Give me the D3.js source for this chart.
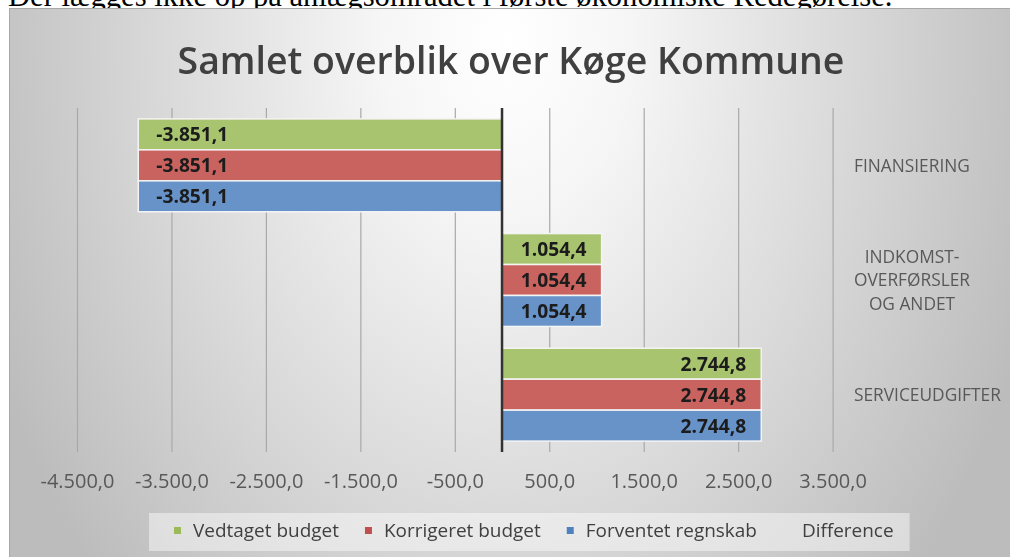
<!DOCTYPE html>
<html>
<head>
<meta charset="utf-8">
<script src="https://cdn.jsdelivr.net/npm/d3@7"></script>
<style>
  html, body { margin: 0; padding: 0; background: #ffffff; }
  svg { display: block; }
</style>
</head>
<body>
<svg id="chart" width="1010" height="557"></svg>
<script>
// ---------- data ----------
const categories = ["FINANSIERING", "INDKOMST-\nOVERFØRSLER\nOG ANDET", "SERVICEUDGIFTER"];
const seriesNames = ["Vedtaget budget", "Korrigeret budget", "Forventet regnskab"];
const legendNames = ["Vedtaget budget", "Korrigeret budget", "Forventet regnskab", "Difference"];
const vedtagetBudget = [-3851.1, 1054.4, 2744.8];
const korrigeretBudget = [-3851.1, 1054.4, 2744.8];
const forventetRegnskab = [-3851.1, 1054.4, 2744.8];
const tickValues = [-4500, -3500, -2500, -1500, -500, 500, 1500, 2500, 3500];
const seriesColors = ["#a8c46e", "#c9645f", "#6793c8"];
const legendColors = ["#9bbb59", "#c0504d", "#4f81bd", "none"];
const titleText = "Samlet overblik over Køge Kommune";
const aboveText = "Der lægges ikke op på anlægsområdet i første økonomiske Redegørelse.";

const seriesValues = [vedtagetBudget, korrigeretBudget, forventetRegnskab];

const fmt = v => {
  const s = Math.abs(v).toFixed(1).split(".");
  const int = s[0].replace(/\B(?=(\d{3})+(?!\d))/g, ".");
  return (v < 0 ? "-" : "") + int + "," + s[1];
};

const svg = d3.select("#chart");
const W = 1010, H = 557;
const SANS = "'Open Sans', 'Noto Sans', sans-serif";

function fitSize(str, family, weight, target) {
  const t = svg.append("text").attr("font-family", family).attr("font-weight", weight)
    .attr("font-size", 100).text(str);
  const w = t.node().getComputedTextLength();
  t.remove();
  return 100 * target / w;
}

const defs = svg.append("defs");
defs.append("filter").attr("id", "soft")
  .attr("x", "-5%").attr("y", "-5%").attr("width", "110%").attr("height", "110%")
  .append("feGaussianBlur").attr("stdDeviation", 0.45);

// ---------- text above chart (cut off like the reference) ----------
const aboveSize = fitSize(aboveText, "'Liberation Serif', serif", "normal", 885);
svg.append("text")
  .attr("x", 8).attr("y", 6)
  .attr("font-family", "'Liberation Serif', serif")
  .attr("font-size", aboveSize)
  .attr("fill", "#000")
  .text(aboveText);

// ---------- chart area background ----------
const grad = defs.append("radialGradient")
  .attr("id", "bg")
  .attr("gradientUnits", "userSpaceOnUse")
  .attr("cx", 505).attr("cy", 40).attr("r", 560)
  .attr("gradientTransform", "translate(505,40) scale(1,1.4) translate(-505,-40)");
[[0, "#ffffff"], [0.22, "#f6f6f6"], [0.6, "#dadada"], [1, "#bcbcbc"]].forEach(([o, c]) =>
  grad.append("stop").attr("offset", o).attr("stop-color", c));

svg.append("rect")
  .attr("x", 9.5).attr("y", 8.5).attr("width", W - 9).attr("height", H - 8)
  .attr("fill", "url(#bg)")
  .attr("stroke", "#a8a8a8").attr("stroke-width", 1);

const main = svg.append("g").attr("filter", "url(#soft)");

// ---------- title ----------
const titleSize = fitSize(titleText, SANS, "600", 667);
main.append("text")
  .attr("x", 511).attr("y", 74)
  .attr("text-anchor", "middle")
  .attr("font-family", SANS).attr("font-weight", 600)
  .attr("font-size", titleSize)
  .attr("fill", "#404040")
  .text(titleText);

// ---------- scales ----------
const x = d3.scaleLinear().domain([-4500, 3500]).range([77, 832.6]);
const y = d3.scaleBand().domain(categories).range([108, 452]).paddingInner(0.19).paddingOuter(0.095);
const ys = d3.scaleBand().domain(d3.range(seriesNames.length)).range([0, y.bandwidth()]).padding(0);

// ---------- gridlines via axis ----------
const tickSize = fitSize("-4.500,0", SANS, "normal", 74);
const xAxis = d3.axisBottom(x)
  .tickValues(tickValues)
  .tickSize(-(452 - 108))
  .tickPadding(22)
  .tickFormat(fmt);
const gx = main.append("g").attr("transform", "translate(0,452)").call(xAxis);
gx.select(".domain").remove();
gx.selectAll(".tick line").attr("stroke", "#a9a9a9").attr("stroke-width", 1.2);
gx.selectAll(".tick text")
  .attr("font-family", SANS).attr("font-size", tickSize)
  .attr("fill", "#595959");

// ---------- bars ----------
const gBars = main.append("g");
categories.forEach((cat, ci) => {
  seriesValues.forEach((vals, si) => {
    const v = vals[ci];
    const y0 = y(cat) + ys(si);
    gBars.append("rect")
      .attr("x", Math.min(x(0), x(v)))
      .attr("y", y0)
      .attr("width", Math.abs(x(v) - x(0)))
      .attr("height", ys.bandwidth())
      .attr("fill", seriesColors[si])
      .attr("stroke", "#f4f4f4").attr("stroke-width", 1.5);
  });
});

// ---------- data labels ----------
const labelSize = fitSize("-3.851,1", SANS, "bold", 72);
categories.forEach((cat, ci) => {
  seriesValues.forEach((vals, si) => {
    const v = vals[ci];
    const cy = y(cat) + ys(si) + ys.bandwidth() / 2;
    main.append("text")
      .attr("x", v < 0 ? x(v) + 18 : x(v) - 15)
      .attr("y", cy)
      .attr("dy", "0.36em")
      .attr("text-anchor", v < 0 ? "start" : "end")
      .attr("font-family", SANS).attr("font-weight", "bold")
      .attr("font-size", labelSize)
      .attr("fill", "#1a1a1a")
      .text(fmt(v));
  });
});

// ---------- zero axis line ----------
main.append("line")
  .attr("x1", x(0)).attr("x2", x(0))
  .attr("y1", 108).attr("y2", 452)
  .attr("stroke", "#333333").attr("stroke-width", 2.5);

// ---------- category labels (right side) ----------
const catSize = fitSize("SERVICEUDGIFTER", SANS, "normal", 147);
const lineH = 23.5;
categories.forEach(cat => {
  const lines = cat.split("\n");
  const g = main.append("g");
  const texts = lines.map((ln, i) => g.append("text")
    .attr("y", y(cat) + y.bandwidth() / 2 + (i - (lines.length - 1) / 2) * lineH)
    .attr("dy", "0.36em")
    .attr("text-anchor", "middle")
    .attr("font-family", SANS).attr("font-size", catSize)
    .attr("fill", "#595959")
    .text(ln));
  const bw = d3.max(texts, t => t.node().getComputedTextLength());
  texts.forEach(t => t.attr("x", 854 + bw / 2));
});

// ---------- legend ----------
const legSize = fitSize("Vedtaget budget", SANS, "normal", 146);
const leg = main.append("g");
const legBox = leg.append("rect")
  .attr("y", 513).attr("height", 38)
  .attr("fill", "#ffffff").attr("fill-opacity", 0.45);
let lx = 0;
const items = leg.append("g");
legendNames.forEach((name, i) => {
  items.append("rect")
    .attr("x", lx).attr("y", 527).attr("width", 7).attr("height", 7)
    .attr("fill", legendColors[i]);
  const t = items.append("text")
    .attr("x", lx + 19).attr("y", 530.5).attr("dy", "0.36em")
    .attr("font-family", SANS).attr("font-size", legSize)
    .attr("fill", "#404040")
    .text(name);
  lx += 19 + t.node().getComputedTextLength() + 26;
});
const totalW = lx - 26;
const startX = 174;
items.attr("transform", `translate(${startX},0)`);
legBox.attr("x", startX - 25).attr("width", totalW + 25 + 16);
</script>
</body>
</html>
